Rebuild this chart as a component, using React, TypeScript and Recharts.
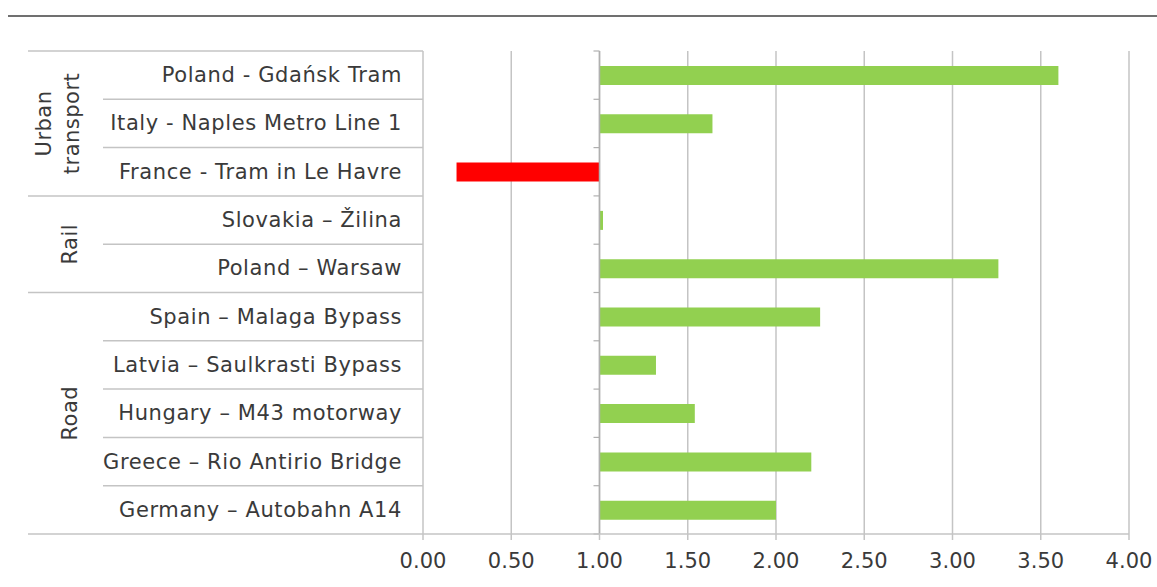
import React from "react";
import { BarChart, Bar, XAxis, YAxis, CartesianGrid, ReferenceLine, Cell } from "recharts";

const categories = [
  "Poland - Gdańsk Tram",
  "Italy - Naples Metro Line 1",
  "France - Tram in Le Havre",
  "Slovakia – Žilina",
  "Poland – Warsaw",
  "Spain – Malaga Bypass",
  "Latvia – Saulkrasti Bypass",
  "Hungary – M43 motorway",
  "Greece – Rio Antirio Bridge",
  "Germany – Autobahn A14",
];
const values = [3.6, 1.64, 0.19, 1.02, 3.26, 2.25, 1.32, 1.54, 2.2, 2.0];
const groupNames = [["Urban", "transport"], ["Rail"], ["Road"]];
const groupSizes = [3, 2, 5];
const baseline = 1;
const xTicks = [0, 0.5, 1, 1.5, 2, 2.5, 3, 3.5, 4];

const FONT = "DejaVu Sans, Verdana, sans-serif";
const TEXT = "#3a3a3a";
const GREEN = "#92d050";
const RED = "#ff0000";
const LINE = "#c4c4c4";

const data = categories.map((name, i) => ({
  name,
  value: values[i],
  range: [Math.min(baseline, values[i]), Math.max(baseline, values[i])],
}));

const groupBoundaries: number[] = [0];
groupSizes.forEach((s) => groupBoundaries.push(groupBoundaries[groupBoundaries.length - 1] + s));

const TableShape = (props: any) => {
  const { x1, y1, y2 } = props;
  const top = Math.min(y1, y2);
  const bottom = Math.max(y1, y2);
  const n = categories.length;
  const step = (bottom - top) / n;
  const els: React.ReactNode[] = [];
  for (let i = 0; i <= n; i++) {
    const y = top + i * step;
    const isGroup = groupBoundaries.includes(i);
    els.push(
      <line key={"l" + i} x1={isGroup ? 28 : 103} x2={x1} y1={y} y2={y} stroke={LINE} strokeWidth={1.5} />
    );
  }
  groupNames.forEach((lines, g) => {
    const start = groupBoundaries[g];
    const end = groupBoundaries[g + 1];
    const cy = top + ((start + end) / 2) * step;
    const lh = 28;
    const baseX = lines.length > 1 ? 58 : 70;
    lines.forEach((t, k) => {
      const cx = baseX + (k - (lines.length - 1) / 2) * lh;
      els.push(
        <text
          key={"g" + g + k}
          x={cx}
          y={cy}
          transform={`rotate(-90, ${cx}, ${cy})`}
          textAnchor="middle"
          dominantBaseline="central"
          fontFamily={FONT}
          fontSize={21}
          letterSpacing={0.5}
          fill={TEXT}
        >
          {t}
        </text>
      );
    });
  });
  return <g>{els}</g>;
};

const AxisShape = (props: any) => {
  const { x1, y1, y2 } = props;
  const top = Math.min(y1, y2);
  const bottom = Math.max(y1, y2);
  const n = categories.length;
  const step = (bottom - top) / n;
  const els: React.ReactNode[] = [
    <line key="ax" x1={x1} x2={x1} y1={top} y2={bottom} stroke="#b0b0b0" strokeWidth={1.5} />,
  ];
  for (let i = 0; i <= n; i++) {
    const y = top + i * step;
    els.push(<line key={"t" + i} x1={x1 - 6} x2={x1} y1={y} y2={y} stroke="#b0b0b0" strokeWidth={1.2} />);
  }
  return <g>{els}</g>;
};

const YTick = (props: any) => {
  const { y, payload } = props;
  return (
    <text
      x={402}
      y={y}
      textAnchor="end"
      dominantBaseline="central"
      fontFamily={FONT}
      fontSize={21}
      letterSpacing={0.6}
      fill={TEXT}
    >
      {payload.value}
    </text>
  );
};

export default function App() {
  return (
    <div style={{ position: "absolute", left: 0, top: 0, width: 1157, height: 587, background: "#fff" }}>
      <div style={{ position: "absolute", left: 8, right: 0, top: 15, height: 0, borderTop: "2px solid #707070" }} />
      <BarChart
        width={1157}
        height={587}
        data={data}
        layout="vertical"
        margin={{ top: 51, right: 28, bottom: 0, left: 0 }}
        barCategoryGap={0}
      >
        <CartesianGrid horizontal={false} vertical={true} stroke={LINE} strokeWidth={1.5} />
        <XAxis
          type="number"
          domain={[0, 4]}
          ticks={xTicks}
          interval={0}
          height={53}
          tickFormatter={(v: number) => v.toFixed(2)}
          axisLine={{ stroke: LINE, strokeWidth: 1.5 }}
          tickLine={{ stroke: LINE, strokeWidth: 1.5 }}
          tickSize={6}
          tickMargin={13}
          tick={{ fill: TEXT, fontSize: 21, fontFamily: FONT }}
          allowDataOverflow
        />
        <YAxis type="category" dataKey="name" width={423} axisLine={false} tickLine={false} tick={<YTick />} interval={0} />
        <ReferenceLine x={0} shape={<TableShape />} />
        <Bar dataKey="range" barSize={19} isAnimationActive={false}>
          {data.map((d, i) => (
            <Cell key={i} fill={d.value < baseline ? RED : GREEN} />
          ))}
        </Bar>
        <ReferenceLine x={baseline} shape={<AxisShape />} />
      </BarChart>
    </div>
  );
}
